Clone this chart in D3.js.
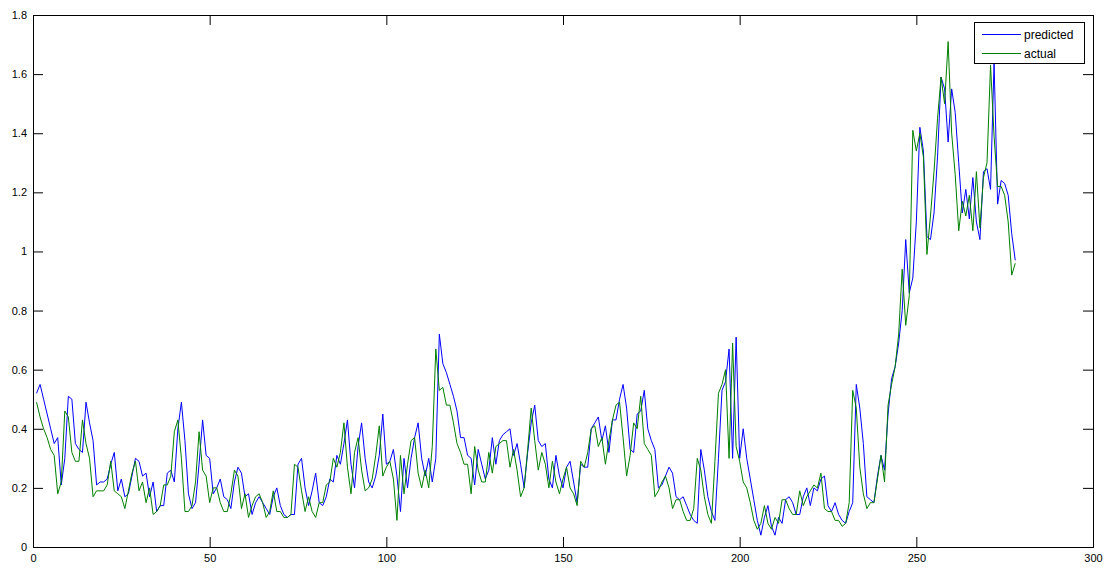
<!DOCTYPE html>
<html>
<head>
<meta charset="utf-8">
<script src="https://cdn.jsdelivr.net/npm/d3@7"></script>
<style>
  body { margin: 0; background: #fff; }
  svg { display: block; font-family: "Liberation Sans", Arial, sans-serif; }
  .tick text { font-size: 11px; fill: #000; }
</style>
</head>
<body>
<svg id="chart"></svg>
<script>
// actual values, samples 1..278
const actual = [
  0.49, 0.44, 0.40, 0.37, 0.33, 0.31, 0.18, 0.22, 0.46, 0.44, 0.32, 0.29, 0.29, 0.43, 0.35, 0.30, 0.17, 0.19, 0.19, 0.19,
  0.21, 0.29, 0.19, 0.18, 0.17, 0.13, 0.19, 0.25, 0.29, 0.19, 0.22, 0.15, 0.20, 0.11, 0.12, 0.14, 0.21, 0.21, 0.24, 0.39,
  0.43, 0.30, 0.12, 0.12, 0.14, 0.22, 0.39, 0.26, 0.24, 0.15, 0.20, 0.20, 0.15, 0.12, 0.12, 0.18, 0.26, 0.24, 0.13, 0.18,
  0.10, 0.14, 0.17, 0.18, 0.15, 0.10, 0.12, 0.19, 0.12, 0.12, 0.10, 0.10, 0.11, 0.28, 0.27, 0.19, 0.12, 0.17, 0.12, 0.10,
  0.15, 0.15, 0.21, 0.22, 0.30, 0.27, 0.32, 0.42, 0.27, 0.18, 0.32, 0.37, 0.26, 0.19, 0.20, 0.23, 0.31, 0.41, 0.24, 0.27,
  0.29, 0.23, 0.09, 0.31, 0.18, 0.28, 0.36, 0.37, 0.25, 0.20, 0.26, 0.20, 0.34, 0.67, 0.53, 0.54, 0.48, 0.48, 0.42, 0.35,
  0.32, 0.28, 0.28, 0.18, 0.34, 0.26, 0.22, 0.22, 0.32, 0.25, 0.34, 0.35, 0.36, 0.36, 0.27, 0.33, 0.26, 0.17, 0.20, 0.33,
  0.47, 0.36, 0.26, 0.32, 0.28, 0.20, 0.29, 0.22, 0.18, 0.23, 0.27, 0.20, 0.18, 0.14, 0.29, 0.27, 0.32, 0.40, 0.41, 0.34,
  0.37, 0.28, 0.36, 0.43, 0.48, 0.49, 0.37, 0.24, 0.31, 0.42, 0.40, 0.51, 0.35, 0.33, 0.31, 0.17, 0.19, 0.22, 0.24, 0.20,
  0.13, 0.16, 0.16, 0.12, 0.09, 0.09, 0.13, 0.30, 0.26, 0.17, 0.11, 0.08, 0.29, 0.52, 0.55, 0.60, 0.30, 0.69, 0.34, 0.29,
  0.22, 0.20, 0.15, 0.09, 0.06, 0.08, 0.14, 0.08, 0.06, 0.10, 0.08, 0.16, 0.16, 0.13, 0.11, 0.11, 0.19, 0.14, 0.17, 0.19,
  0.21, 0.20, 0.25, 0.13, 0.12, 0.12, 0.09, 0.09, 0.07, 0.08, 0.15, 0.53, 0.47, 0.27, 0.18, 0.13, 0.15, 0.15, 0.23, 0.31,
  0.22, 0.48, 0.55, 0.61, 0.72, 0.94, 0.75, 0.85, 1.41, 1.34, 1.40, 1.32, 0.99, 1.12, 1.27, 1.45, 1.59, 1.50, 1.71, 1.40,
  1.26, 1.07, 1.17, 1.12, 1.19, 1.07, 1.27, 1.08, 1.25, 1.30, 1.63, 1.39, 1.22, 1.22, 1.19, 1.10, 0.92, 0.96
];

// predicted values, samples 1..278
const predicted = [
  0.52, 0.55, 0.50, 0.45, 0.40, 0.35, 0.37, 0.21, 0.30, 0.51, 0.50, 0.35, 0.33, 0.32, 0.49, 0.42, 0.36, 0.21, 0.22, 0.22,
  0.23, 0.28, 0.32, 0.19, 0.23, 0.17, 0.18, 0.24, 0.30, 0.29, 0.24, 0.25, 0.17, 0.22, 0.12, 0.14, 0.14, 0.25, 0.26, 0.22,
  0.40, 0.49, 0.36, 0.18, 0.13, 0.15, 0.28, 0.43, 0.31, 0.30, 0.18, 0.20, 0.23, 0.17, 0.16, 0.13, 0.22, 0.27, 0.25, 0.17,
  0.18, 0.11, 0.15, 0.17, 0.15, 0.13, 0.11, 0.17, 0.20, 0.14, 0.11, 0.10, 0.11, 0.11, 0.28, 0.30, 0.20, 0.14, 0.19, 0.25,
  0.15, 0.14, 0.17, 0.23, 0.22, 0.31, 0.28, 0.35, 0.43, 0.28, 0.20, 0.34, 0.42, 0.30, 0.22, 0.20, 0.24, 0.31, 0.45, 0.28,
  0.29, 0.33, 0.24, 0.12, 0.30, 0.20, 0.30, 0.37, 0.42, 0.30, 0.24, 0.30, 0.22, 0.30, 0.72, 0.62, 0.59, 0.55, 0.51, 0.46,
  0.37, 0.37, 0.31, 0.30, 0.21, 0.33, 0.28, 0.23, 0.26, 0.37, 0.28, 0.36, 0.38, 0.39, 0.40, 0.31, 0.35, 0.28, 0.20, 0.32,
  0.42, 0.48, 0.36, 0.34, 0.35, 0.23, 0.20, 0.31, 0.24, 0.20, 0.27, 0.29, 0.22, 0.15, 0.28, 0.27, 0.27, 0.40, 0.42, 0.44,
  0.36, 0.41, 0.32, 0.43, 0.43, 0.50, 0.55, 0.47, 0.33, 0.32, 0.45, 0.46, 0.53, 0.40, 0.36, 0.33, 0.20, 0.21, 0.24, 0.27,
  0.25, 0.17, 0.16, 0.17, 0.14, 0.11, 0.09, 0.08, 0.33, 0.26, 0.17, 0.12, 0.09, 0.30, 0.53, 0.56, 0.67, 0.30, 0.71, 0.30,
  0.40, 0.30, 0.23, 0.16, 0.09, 0.04, 0.10, 0.14, 0.07, 0.04, 0.10, 0.08, 0.16, 0.17, 0.15, 0.11, 0.11, 0.17, 0.20, 0.14,
  0.20, 0.19, 0.23, 0.24, 0.14, 0.12, 0.15, 0.11, 0.09, 0.08, 0.12, 0.15, 0.55, 0.47, 0.35, 0.17, 0.16, 0.15, 0.24, 0.31,
  0.26, 0.45, 0.57, 0.61, 0.69, 0.80, 1.04, 0.86, 0.91, 1.10, 1.42, 1.34, 1.05, 1.04, 1.13, 1.32, 1.59, 1.55, 1.37, 1.55,
  1.47, 1.30, 1.13, 1.21, 1.11, 1.25, 1.10, 1.04, 1.27, 1.28, 1.21, 1.64, 1.16, 1.24, 1.23, 1.19, 1.06, 0.97
];

const xTicks = [0, 50, 100, 150, 200, 250, 300];
const yTicks = [0, 0.2, 0.4, 0.6, 0.8, 1, 1.2, 1.4, 1.6, 1.8];
const seriesNames = ["predicted", "actual"];
const seriesColors = ["#0000ff", "#008000"];

const width = 1108,
    height = 569;
const margin = {
    top: 15,
    right: 15,
    bottom: 22,
    left: 33
};

const svg = d3.select("#chart")
    .attr("width", width)
    .attr("height", height);

let x = d3.scaleLinear()
    .domain([0, 300])
    .range([margin.left, width - margin.right]);
let y = d3.scaleLinear()
    .domain([0, 1.8])
    .range([height - margin.bottom, margin.top]);

const fmt = d => String(+d.toFixed(1));

// axes, MATLAB style: ticks pointing inwards on all four sides
svg.append("g")
    .attr("transform", `translate(0,${y(0)})`)
    .call(d3.axisBottom(x).tickValues(xTicks).tickSize(-10).tickPadding(7).tickFormat(fmt))
    .call(g => g.select(".domain").remove());
svg.append("g")
    .attr("transform", `translate(0,${y(1.8)})`)
    .call(d3.axisTop(x).tickValues(xTicks).tickSize(-10).tickFormat(""))
    .call(g => g.select(".domain").remove());
svg.append("g")
    .attr("transform", `translate(${x(0)},0)`)
    .call(d3.axisLeft(y).tickValues(yTicks).tickSize(-10).tickPadding(6).tickFormat(fmt))
    .call(g => g.select(".domain").remove());
svg.append("g")
    .attr("transform", `translate(${x(300)},0)`)
    .call(d3.axisRight(y).tickValues(yTicks).tickSize(-10).tickFormat(""))
    .call(g => g.select(".domain").remove());

svg.selectAll(".tick line").attr("stroke", "#000");

const line = d3.line()
    .x((d, i) => x(i + 1))
    .y(d => y(d));

svg.append("g")
    .selectAll("path")
    .data([predicted, actual])
    .join("path")
    .attr("d", line)
    .attr("fill", "none")
    .attr("stroke", (d, i) => seriesColors[i])
    .attr("stroke-width", 1);

// plot box
svg.append("rect")
    .attr("x", x(0) + 0.5)
    .attr("y", y(1.8) + 0.5)
    .attr("width", x(300) - x(0))
    .attr("height", y(0) - y(1.8))
    .attr("fill", "none")
    .attr("stroke", "#000");

// legend
const legend = svg.append("g")
    .attr("transform", "translate(974,22)");
legend.append("rect")
    .attr("x", 0.5)
    .attr("y", 0.5)
    .attr("width", 110)
    .attr("height", 41)
    .attr("fill", "#fff")
    .attr("stroke", "#000");
const entry = legend.selectAll(".entry")
    .data(seriesNames)
    .join("g")
    .attr("class", "entry")
    .attr("transform", (d, i) => `translate(0,${12.5 + i * 19})`);
entry.append("line")
    .attr("x1", 8)
    .attr("x2", 47)
    .attr("stroke", (d, i) => seriesColors[i]);
entry.append("text")
    .attr("x", 50)
    .attr("dy", "0.35em")
    .style("font-size", "12px")
    .text(d => d);
</script>
</body>
</html>
